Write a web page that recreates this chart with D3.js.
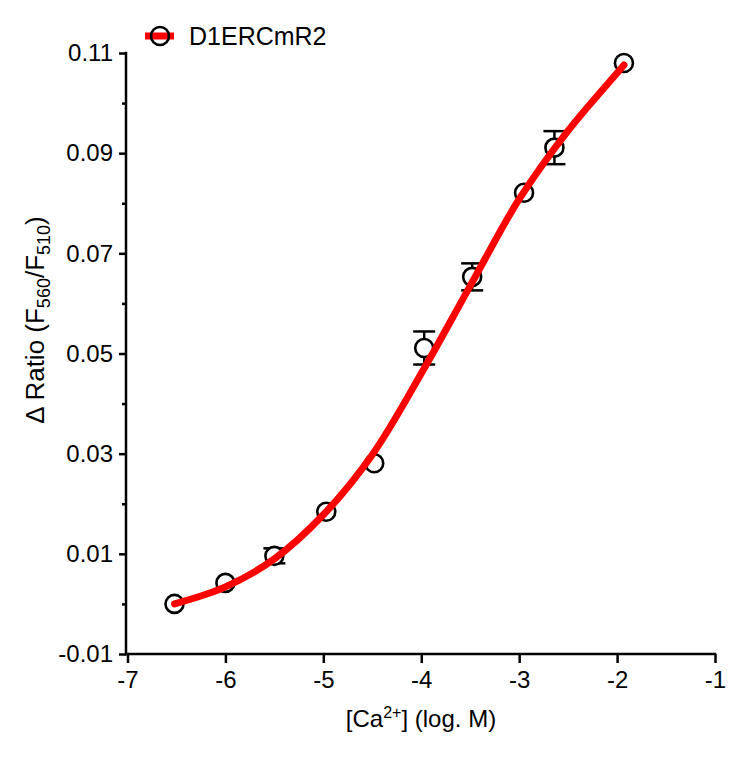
<!DOCTYPE html>
<html><head><meta charset="utf-8">
<script src="https://cdn.jsdelivr.net/npm/d3@7"></script>
<style>body{margin:0;background:#fff}svg{display:block}text{font-family:"Liberation Sans",Arial,sans-serif;fill:#000}</style>
</head><body>
<svg id="c" width="746" height="761"></svg>
<script>
const seriesName = "D1ERCmR2";
const logCa  = [-6.52, -6.0, -5.5, -4.97, -4.48, -3.97, -3.48, -2.95, -2.64, -1.93];
const ratio  = [0.0000, 0.0042, 0.0096, 0.0184, 0.0281, 0.0511, 0.0653, 0.0821, 0.0911, 0.1080];
const sem    = [0, 0, 0.0015, 0, 0, 0.0033, 0.0027, 0, 0.0033, 0];
const fitX   = [-6.52, -6.0, -5.5, -5.0, -4.5, -4.0, -3.5, -3.0, -2.5, -2.0, -1.93];
const fitY   = [0.0000, 0.0034, 0.0090, 0.0178, 0.0298, 0.0460, 0.0635, 0.0808, 0.0945, 0.1060, 0.1076];
const xTicks = [-7, -6, -5, -4, -3, -2, -1];
const xTickLabels = ["-7", "-6", "-5", "-4", "-3", "-2", "-1"];
const yTicks = [-0.01, 0.01, 0.03, 0.05, 0.07, 0.09, 0.11];
const yTickLabels = ["-0.01", "0.01", "0.03", "0.05", "0.07", "0.09", "0.11"];
const yMinor = [0.00, 0.02, 0.04, 0.06, 0.08, 0.10];

const svg = d3.select("#c");
const x = d3.scaleLinear().domain([-7, -1]).range([127.5, 715]);
const y = d3.scaleLinear().domain([-0.01, 0.11]).range([654, 53]);
const AX = 126, AY = 654;

// axes
svg.append("g").attr("transform", `translate(0,${AY})`)
  .call(d3.axisBottom(x).tickValues(xTicks).tickFormat((d,i)=>xTickLabels[i]).tickSize(9).tickPadding(8));
svg.append("g").attr("transform", `translate(${AX},0)`)
  .call(d3.axisLeft(y).tickValues(yTicks).tickFormat((d,i)=>yTickLabels[i]).tickSize(7).tickPadding(6));
svg.append("g").attr("transform", `translate(${AX},0)`)
  .call(d3.axisLeft(y).tickValues(yMinor).tickFormat("").tickSize(4));
svg.selectAll(".domain").remove();
svg.selectAll(".tick line").attr("stroke", "#000").attr("stroke-width", 2.5);
svg.selectAll(".tick text").style("font-size", "24px").attr("fill", "#000");
svg.append("line").attr("x1", AX).attr("x2", AX).attr("y1", y(0.11)-1.2).attr("y2", AY+1.2)
  .attr("stroke", "#000").attr("stroke-width", 2.5);
svg.append("line").attr("x1", AX-1.2).attr("x2", x(-1)+1.2).attr("y1", AY).attr("y2", AY)
  .attr("stroke", "#000").attr("stroke-width", 2.5);

// error bars
const pts = logCa.map((v,i)=>({x:v, y:ratio[i], e:sem[i]}));
const eb = svg.append("g").attr("stroke", "#000").attr("stroke-width", 2.5);
pts.filter(d=>d.e>0).forEach(d=>{
  const cx = x(d.x), yt = y(d.y + d.e), yb = y(d.y - d.e);
  eb.append("line").attr("x1", cx).attr("x2", cx).attr("y1", yt).attr("y2", yb);
  eb.append("line").attr("x1", cx-11).attr("x2", cx+11).attr("y1", yt).attr("y2", yt);
  eb.append("line").attr("x1", cx-11).attr("x2", cx+11).attr("y1", yb).attr("y2", yb);
});

// points
svg.append("g").selectAll("circle").data(pts).join("circle")
  .attr("cx", d=>x(d.x)).attr("cy", d=>y(d.y)).attr("r", 9)
  .attr("fill", "#fff").attr("stroke", "#000").attr("stroke-width", 2.6);

// fitted curve
const fit = fitX.map((v,i)=>[v, fitY[i]]);
svg.append("path").datum(fit)
  .attr("d", d3.line().x(d=>x(d[0])).y(d=>y(d[1])).curve(d3.curveCatmullRom.alpha(0.5)))
  .attr("fill", "none").attr("stroke", "#ff0000").attr("stroke-width", 7)
  .attr("stroke-linecap", "round");

// legend
const lg = svg.append("g");
lg.append("line").attr("x1", 145).attr("x2", 174).attr("y1", 36).attr("y2", 36)
  .attr("stroke", "#ff0000").attr("stroke-width", 7);
lg.append("circle").attr("cx", 160).attr("cy", 36).attr("r", 9)
  .attr("fill", "none").attr("stroke", "#000").attr("stroke-width", 2.6);
lg.append("text").attr("x", 189).attr("y", 45).style("font-size", "25px").text(seriesName);

// x title
const xt = svg.append("text").attr("x", 421).attr("y", 727).attr("text-anchor", "middle").style("font-size", "24px");
xt.append("tspan").text("[Ca");
xt.append("tspan").attr("dy", -9).style("font-size", "16px").text("2+");
xt.append("tspan").attr("dy", 9).text("] (log. M)");

// y title
const yt = svg.append("text").attr("transform", "translate(44,320) rotate(-90)")
  .attr("text-anchor", "middle").style("font-size", "26px");
yt.append("tspan").text("\u0394 Ratio (F");
yt.append("tspan").attr("dy", 6).style("font-size", "18px").text("560");
yt.append("tspan").attr("dy", -6).text("/F");
yt.append("tspan").attr("dy", 6).style("font-size", "18px").text("510");
yt.append("tspan").attr("dy", -6).text(")");
</script>
</body></html>
